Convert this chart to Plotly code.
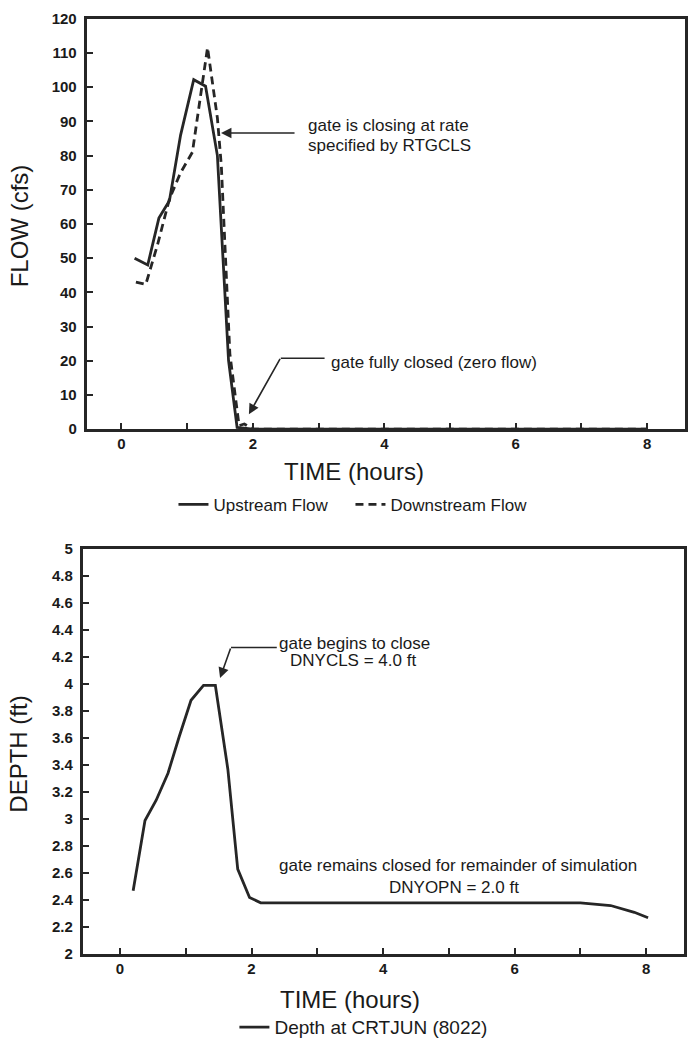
import plotly.graph_objects as go

W, H = 688, 1049
FONT = "Liberation Sans, Arial, Helvetica, sans-serif"
INK = "#262626"
TXT = "#1a1a1a"

# ---------------- data ----------------
time_up = [0.2, 0.4, 0.57, 0.73, 0.9, 1.1, 1.28, 1.46, 1.63, 1.76, 2.0, 3.0, 4.0, 5.0, 6.0, 7.0, 8.0]
flow_up = [50, 48, 61.7, 66.8, 86, 102.2, 100.3, 80, 20, 0.5, 0, 0, 0, 0, 0, 0, 0]

time_dn = [0.22, 0.37, 0.55, 0.73, 0.9, 1.08, 1.31, 1.46, 1.52, 1.65, 1.79, 1.87, 2.0, 3.0, 4.0, 5.0, 6.0, 7.0, 8.0]
flow_dn = [43, 42.3, 54, 67.3, 75, 81, 111.6, 91, 77, 22, 1, 1.5, 0, 0, 0, 0, 0, 0, 0]

time_depth = [0.2, 0.38, 0.55, 0.73, 0.9, 1.08, 1.27, 1.45, 1.64, 1.79, 1.97, 2.14, 3.0, 4.0, 5.0, 6.0, 7.0, 7.46, 7.82, 8.03]
depth = [2.47, 2.99, 3.14, 3.34, 3.61, 3.88, 3.99, 3.99, 3.37, 2.63, 2.42, 2.38, 2.38, 2.38, 2.38, 2.38, 2.38, 2.36, 2.31, 2.27]

x_tickvals = [0, 1, 2, 3, 4, 5, 6, 7, 8]
x_ticktext = ["0", "", "2", "", "4", "", "6", "", "8"]
flow_tickvals = [0, 10, 20, 30, 40, 50, 60, 70, 80, 90, 100, 110, 120]
flow_ticktext = ["0", "10", "20", "30", "40", "50", "60", "70", "80", "90", "100", "110", "120"]
depth_tickvals = [2.0, 2.2, 2.4, 2.6, 2.8, 3.0, 3.2, 3.4, 3.6, 3.8, 4.0, 4.2, 4.4, 4.6, 4.8, 5.0]
depth_ticktext = ["2", "2.2", "2.4", "2.6", "2.8", "3", "3.2", "3.4", "3.6", "3.8", "4", "4.2", "4.4", "4.6", "4.8", "5"]


def px(x):
    return x / W


def py(y):
    return 1 - y / H


fig = go.Figure()
fig.add_trace(go.Scatter(x=time_up, y=flow_up, mode="lines", name="Upstream Flow",
                         line=dict(color=INK, width=2.8), xaxis="x", yaxis="y", legend="legend"))
fig.add_trace(go.Scatter(x=time_dn, y=flow_dn, mode="lines", name="Downstream Flow",
                         line=dict(color=INK, width=2.8, dash="8px,5px"), xaxis="x", yaxis="y", legend="legend"))
fig.add_trace(go.Scatter(x=time_depth, y=depth, mode="lines", name="Depth at CRTJUN (8022)",
                         line=dict(color=INK, width=2.8), xaxis="x2", yaxis="y2", legend="legend2"))

axis_common = dict(showline=True, linewidth=2.8, linecolor=INK, mirror=True,
                   ticks="inside", ticklen=6, tickwidth=2, tickcolor=INK,
                   showgrid=False, zeroline=False,
                   tickfont=dict(family=FONT, size=15, color=TXT, weight="bold"))

fig.update_layout(
    width=W, height=H, autosize=False,
    margin=dict(l=0, r=0, t=0, b=0),
    paper_bgcolor="white", plot_bgcolor="white",
    font=dict(family=FONT, color=TXT),
    xaxis=dict(domain=[px(87), px(688)], range=[-0.53, 8.576], anchor="y",
               tickvals=x_tickvals, ticktext=x_ticktext, ticklabelstandoff=-1, **axis_common),
    yaxis=dict(domain=[py(427), py(10)], range=[0, 120], anchor="x",
               tickvals=flow_tickvals, ticktext=flow_ticktext, ticklabelstandoff=4, **axis_common),
    xaxis2=dict(domain=[px(83), px(687)], range=[-0.568, 8.576], anchor="y2",
                tickvals=x_tickvals, ticktext=x_ticktext, ticklabelstandoff=-1, **axis_common),
    yaxis2=dict(domain=[py(960.7), py(549)], range=[2, 5], anchor="x2",
                tickvals=depth_tickvals, ticktext=depth_ticktext, ticklabelstandoff=4, **axis_common),
    legend=dict(orientation="h", x=px(352), y=py(504), xanchor="center", yanchor="middle",
                font=dict(family=FONT, size=17, color=TXT), bgcolor="rgba(0,0,0,0)",
                itemwidth=30, entrywidth=132),
    legend2=dict(orientation="h", x=px(365), y=py(1035), xanchor="center", yanchor="middle",
                 font=dict(family=FONT, size=19, color=TXT), bgcolor="rgba(0,0,0,0)",
                 itemwidth=30),
    showlegend=True,
)

NOTE = dict(size=17, family=FONT)
ann = []
# axis titles
ann.append(dict(text="FLOW (cfs)", x=px(20), y=py(220), xref="paper", yref="paper", textangle=-90,
                showarrow=False, font=dict(size=24, family=FONT), xanchor="center", yanchor="middle"))
ann.append(dict(text="TIME (hours)", x=px(356), y=py(470), xref="paper", yref="paper",
                showarrow=False, font=dict(size=24, family=FONT), xanchor="center", yanchor="middle"))
ann.append(dict(text="DEPTH (ft)", x=px(19), y=py(757), xref="paper", yref="paper", textangle=-90,
                showarrow=False, font=dict(size=24, family=FONT), xanchor="center", yanchor="middle"))
ann.append(dict(text="TIME (hours)", x=px(352), y=py(1007), xref="paper", yref="paper",
                showarrow=False, font=dict(size=24, family=FONT), xanchor="center", yanchor="middle"))

# top chart notes
ann.append(dict(text="gate is closing at rate", x=px(307), y=py(118),
                xref="paper", yref="paper", showarrow=False,
                xanchor="left", yanchor="middle", font=NOTE))
ann.append(dict(text="specified by RTGCLS", x=px(307), y=py(139),
                xref="paper", yref="paper", showarrow=False,
                xanchor="left", yanchor="middle", font=NOTE))
ann.append(dict(text="", x=px(222), y=py(126), xref="paper", yref="paper", showarrow=True,
                ax=75, ay=0, arrowhead=2, arrowsize=1.3, arrowwidth=1.6, arrowcolor=INK))
ann.append(dict(text="gate fully closed (zero flow)", x=px(330), y=py(359),
                xref="paper", yref="paper", showarrow=False,
                xanchor="left", yanchor="middle", font=NOTE))
ann.append(dict(text="", x=px(250), y=py(412), xref="paper", yref="paper", showarrow=True,
                ax=32, ay=-57, arrowhead=2, arrowsize=1.3, arrowwidth=1.6, arrowcolor=INK))

# bottom chart notes
ann.append(dict(text="gate begins to close", x=px(356), y=py(645),
                xref="paper", yref="paper", showarrow=False,
                xanchor="center", yanchor="middle", font=NOTE))
ann.append(dict(text="DNYCLS = 4.0 ft", x=px(355), y=py(662),
                xref="paper", yref="paper", showarrow=False,
                xanchor="center", yanchor="middle", font=NOTE))
ann.append(dict(text="", x=px(221), y=py(680), xref="paper", yref="paper", showarrow=True,
                ax=11, ay=-31, arrowhead=2, arrowsize=1.3, arrowwidth=1.6, arrowcolor=INK))
ann.append(dict(text="gate remains closed for remainder of simulation", x=px(460), y=py(871),
                xref="paper", yref="paper", showarrow=False,
                xanchor="center", yanchor="middle", font=NOTE))
ann.append(dict(text="DNYOPN = 2.0 ft", x=px(456), y=py(893),
                xref="paper", yref="paper", showarrow=False,
                xanchor="center", yanchor="middle", font=NOTE))
fig.update_layout(annotations=ann)

shapes = [
    dict(type="line", xref="paper", yref="paper", x0=px(282), x1=px(326), y0=py(355), y1=py(355),
         line=dict(color=INK, width=1.6)),
    dict(type="line", xref="paper", yref="paper", x0=px(232), x1=px(278), y0=py(649), y1=py(649),
         line=dict(color=INK, width=1.6)),
]
fig.update_layout(shapes=shapes)

fig.write_html("out.html")
